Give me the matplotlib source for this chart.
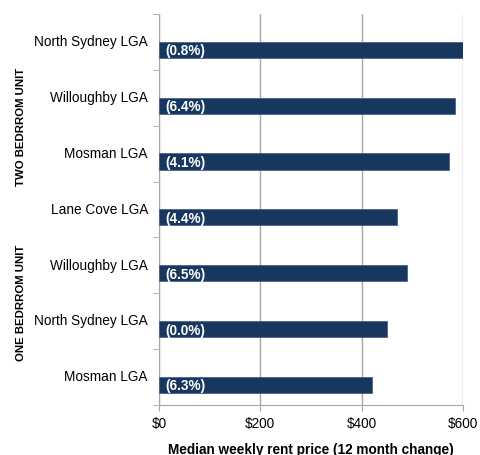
import matplotlib.pyplot as plt
import numpy as np

plt.rcParams['font.family'] = ['Liberation Sans', 'DejaVu Sans']

# bottom to top
areas = ['Mosman LGA', 'North Sydney LGA', 'Willoughby LGA',
         'Lane Cove LGA', 'Mosman LGA', 'Willoughby LGA', 'North Sydney LGA']
rent = [420, 450, 490, 470, 573, 585, 600]
change = ['(6.3%)', '(0.0%)', '(6.5%)', '(4.4%)', '(4.1%)', '(6.4%)', '(0.8%)']
groups = ['ONE BEDRROM UNIT', 'TWO BEDRROM UNIT']
xticks = [0, 200, 400, 600]

bar_color = '#17375e'
grid_color = '#a6a6a6'

fig = plt.figure(figsize=(4.8, 4.56), dpi=100)
ax = fig.add_axes([159/480, 1 - 406/456, 304/480, 391/456])

y = np.arange(len(areas))
ax.barh(y - 0.14, rent, height=0.29, color=bar_color, edgecolor='#4a6489', linewidth=0.6, zorder=3)
for yi, txt in zip(y, change):
    ax.text(12, yi - 0.15, txt, color='white', fontsize=9.8, fontweight='bold',
            va='center', ha='left', zorder=4)

ax.set_xlim(0, 600)
ax.set_ylim(-0.5, len(areas) - 0.5)
ax.set_xticks(xticks)
ax.set_xticklabels(['$' + str(v) for v in xticks], fontsize=9.8)
ax.set_yticks(y + 0.04)
ax.set_yticklabels(areas, fontsize=9.8)
ax.set_yticks(np.arange(-0.5, len(areas)), minor=True)
ax.tick_params(axis='y', which='major', length=0, pad=8)
ax.tick_params(axis='y', which='minor', length=4, color=grid_color)
ax.tick_params(axis='x', length=4, color=grid_color, pad=4)
ax.grid(axis='x', color=grid_color, linewidth=1, zorder=0)

for side in ['top', 'right']:
    ax.spines[side].set_visible(False)
for side in ['left', 'bottom']:
    ax.spines[side].set_color(grid_color)

ax.set_xlabel('Median weekly rent price (12 month change)', fontsize=9.8,
              fontweight='bold', labelpad=8.5)

fig.text(21/480, 1 - 303/456, groups[0], rotation=90, fontsize=8.2,
         fontweight='bold', ha='center', va='center')
fig.text(21/480, 1 - 127/456, groups[1], rotation=90, fontsize=8.2,
         fontweight='bold', ha='center', va='center')

fig.savefig('out.png', dpi=100)
